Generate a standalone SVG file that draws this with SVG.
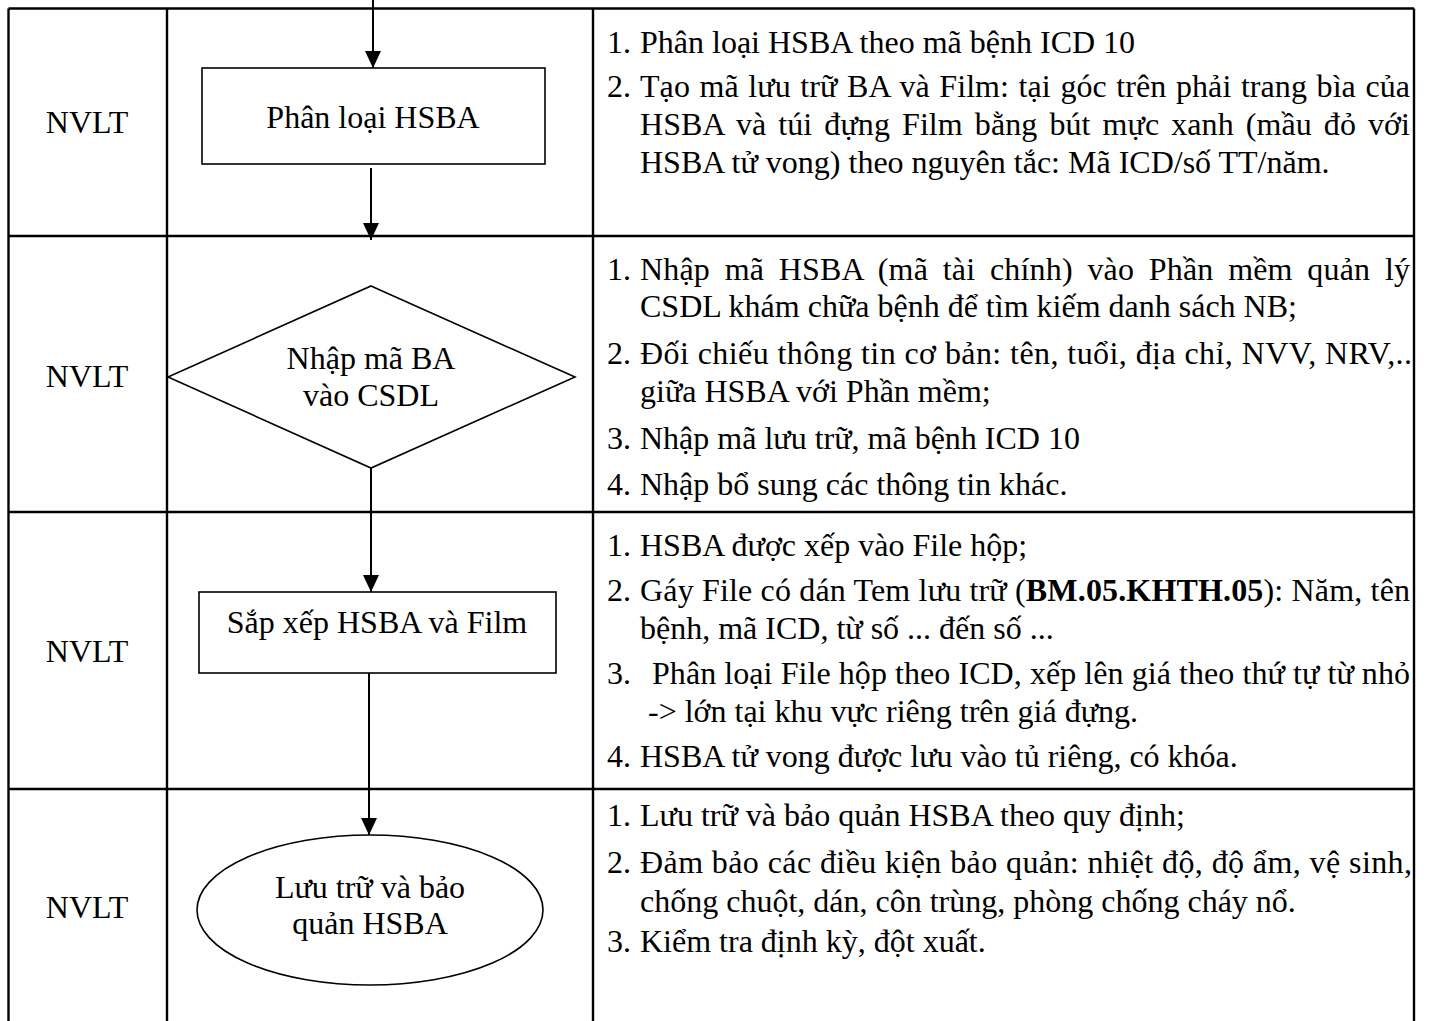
<svg xmlns="http://www.w3.org/2000/svg" width="1429" height="1021" viewBox="0 0 1429 1021">
<defs>
<style>
text{font-family:"Liberation Serif","Times New Roman",serif;font-size:32px;fill:#000}
.c{text-anchor:middle}
.grid{stroke:#000;stroke-width:2.4;fill:none}
.shape{stroke:#000;stroke-width:1.6;fill:#fff}
.conn{stroke:#000;stroke-width:2;fill:none;marker-end:url(#ah)}
.b{font-weight:bold}
</style>
<marker id="ah" markerUnits="userSpaceOnUse" markerWidth="17" markerHeight="16" refX="17" refY="8" orient="auto">
<path d="M0,0 L17,8 L0,16 z" fill="#000"/>
</marker>
</defs>
<rect width="1429" height="1021" fill="#fff"/>
<g id="table" class="grid">
<line x1="8.5" y1="8.5" x2="1414" y2="8.5"/>
<line x1="8.5" y1="236" x2="1414" y2="236"/>
<line x1="8.5" y1="512" x2="1414" y2="512"/>
<line x1="8.5" y1="789" x2="1414" y2="789"/>
<line x1="8.5" y1="8.5" x2="8.5" y2="1021"/>
<line x1="167" y1="8.5" x2="167" y2="1021"/>
<line x1="593" y1="8.5" x2="593" y2="1021"/>
<line x1="1414" y1="8.5" x2="1414" y2="1021"/>
</g>
<g id="lanes">
<text class="c" x="87" y="133">NVLT</text>
<text class="c" x="87" y="387">NVLT</text>
<text class="c" x="87" y="662">NVLT</text>
<text class="c" x="87" y="918">NVLT</text>
</g>
<g id="connectors">
<line class="conn" x1="373" y1="0" x2="373" y2="68"/>
<line class="conn" x1="371" y1="168" x2="371" y2="240"/>
<line class="conn" x1="371" y1="468" x2="371" y2="592"/>
<line class="conn" x1="369" y1="673" x2="369" y2="835"/>
</g>
<g id="n1">
<rect class="shape" x="202" y="68" width="343" height="96"/>
<text class="c" x="373" y="128">Phân loại HSBA</text>
</g>
<g id="n2">
<polygon class="shape" points="371,286 575,377 371,468 168,377"/>
<text class="c" x="371" y="369">Nhập mã BA</text>
<text class="c" x="371" y="406">vào CSDL</text>
</g>
<g id="n3">
<rect class="shape" x="199" y="592" width="357" height="81"/>
<text class="c" x="377" y="633">Sắp xếp HSBA và Film</text>
</g>
<g id="n4">
<ellipse class="shape" cx="370" cy="910" rx="173" ry="75"/>
<text class="c" x="370" y="898">Lưu trữ và bảo</text>
<text class="c" x="370" y="934">quản HSBA</text>
</g>
<g id="d1">
<text x="607" y="53">1.</text><text x="640" y="53">Phân loại HSBA theo mã bệnh ICD 10</text>
<text x="607" y="97">2.</text><text x="640" y="97" textLength="770" lengthAdjust="spacing" word-spacing="1.5">Tạo mã lưu trữ BA và Film: tại góc trên phải trang bìa của</text>
<text x="640" y="135" textLength="770" lengthAdjust="spacing" word-spacing="4">HSBA và túi đựng Film bằng bút mực xanh (mầu đỏ với</text>
<text x="640" y="173">HSBA tử vong) theo nguyên tắc: Mã ICD/số TT/năm.</text>
</g>
<g id="d2">
<text x="607" y="280">1.</text><text x="640" y="280" textLength="770" lengthAdjust="spacing" word-spacing="6.5">Nhập mã HSBA (mã tài chính) vào Phần mềm quản lý</text>
<text x="640" y="317">CSDL khám chữa bệnh để tìm kiếm danh sách NB;</text>
<text x="607" y="364">2.</text><text x="640" y="364" textLength="772" lengthAdjust="spacing">Đối chiếu thông tin cơ bản: tên, tuổi, địa chỉ, NVV, NRV,..</text>
<text x="640" y="402">giữa HSBA với Phần mềm;</text>
<text x="607" y="449">3.</text><text x="640" y="449">Nhập mã lưu trữ, mã bệnh ICD 10</text>
<text x="607" y="495">4.</text><text x="640" y="495">Nhập bổ sung các thông tin khác.</text>
</g>
<g id="d3">
<text x="607" y="556">1.</text><text x="640" y="556">HSBA được xếp vào File hộp;</text>
<text x="607" y="601">2.</text><text x="640" y="601" textLength="770" lengthAdjust="spacing">Gáy File có dán Tem lưu trữ (<tspan class="b">BM.05.KHTH.05</tspan>): Năm, tên</text>
<text x="640" y="639">bệnh, mã ICD, từ số ... đến số ...</text>
<text x="607" y="684">3.</text><text x="652" y="684" textLength="758" lengthAdjust="spacing">Phân loại File hộp theo ICD, xếp lên giá theo thứ tự từ nhỏ</text>
<text x="648" y="722">-&gt; lớn tại khu vực riêng trên giá đựng.</text>
<text x="607" y="767">4.</text><text x="640" y="767">HSBA tử vong được lưu vào tủ riêng, có khóa.</text>
</g>
<g id="d4">
<text x="607" y="826">1.</text><text x="640" y="826">Lưu trữ và bảo quản HSBA theo quy định;</text>
<text x="607" y="873">2.</text><text x="640" y="873" textLength="772" lengthAdjust="spacing">Đảm bảo các điều kiện bảo quản: nhiệt độ, độ ẩm, vệ sinh,</text>
<text x="640" y="912">chống chuột, dán, côn trùng, phòng chống cháy nổ.</text>
<text x="607" y="952">3.</text><text x="640" y="952">Kiểm tra định kỳ, đột xuất.</text>
</g>
</svg>
